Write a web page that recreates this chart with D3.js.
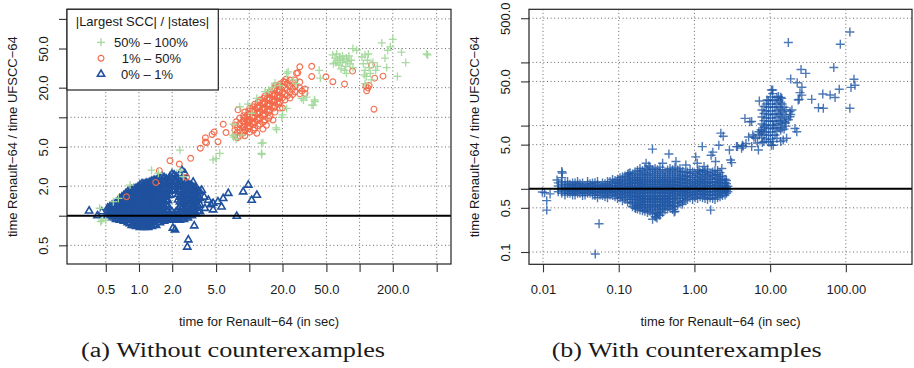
<!DOCTYPE html>
<html>
<head>
<meta charset="utf-8">
<script src="https://cdn.jsdelivr.net/npm/d3@7/dist/d3.min.js"></script>
<style>
  body { margin: 0; background: #fff; }
  svg { display: block; }
  text { font-family: "Liberation Sans", Arial, sans-serif; fill: #1a1a1a; }
</style>
</head>
<body>
<svg id="chart" width="914" height="368"></svg>
<script>
// ---- panel (a): ticks ----
const xTicksA = [0.5, 1, 2, 5, 10, 20, 50, 100, 200, 500];
const xLabelsA = ['0.5', '1.0', '2.0', '5.0', '', '20.0', '50.0', '', '200.0', ''];
const yTicksA = [0.5, 1, 2, 5, 10, 20, 50, 100];
const yLabelsA = ['0.5', '', '2.0', '5.0', '', '20.0', '50.0', ''];

// ---- panel (b): ticks ----
const xTicksB = [0.01, 0.1, 1, 10, 100];
const xLabelsB = ['0.01', '0.10', '1.00', '10.00', '100.00'];
const yTicksB = [0.1, 0.5, 1, 5, 10, 50, 100, 500];
const yLabelsB = ['0.1', '0.5', '', '5.0', '', '50.0', '', '500.0'];

const legendLabels = ['50% \u2013 100%', '1% \u2013 50%', '0% \u2013 1%'];

// ---- panel (a): 0% - 1% (triangles), dense part read column by column [x, [y...]]
const blueColsA = [
  [0.52, [1.0, 1.1, 1.2]],
  [0.545, [1.02, 1.12, 1.24]],
  [0.57, [0.95, 1.05, 1.15, 1.28]],
  [0.595, [0.98, 1.08, 1.18, 1.3]],
  [0.62, [0.92, 1.0, 1.1, 1.22, 1.35]],
  [0.645, [0.95, 1.05, 1.15, 1.28, 1.42]],
  [0.67, [0.9, 1.0, 1.1, 1.2, 1.35, 1.5]],
  [0.70, [0.93, 1.03, 1.14, 1.27, 1.41, 1.55]],
  [0.73, [0.88, 0.98, 1.08, 1.2, 1.33, 1.48, 1.62]],
  [0.76, [0.9, 1.0, 1.12, 1.25, 1.38, 1.53, 1.68]],
  [0.79, [0.85, 0.95, 1.05, 1.17, 1.3, 1.45, 1.6, 1.75]],
  [0.825, [0.83, 0.93, 1.03, 1.14, 1.27, 1.42, 1.58, 1.78]],
  [0.86, [0.8, 0.9, 1.0, 1.12, 1.25, 1.4, 1.55, 1.72, 1.85]],
  [0.90, [0.8, 0.9, 1.0, 1.11, 1.24, 1.38, 1.53, 1.7, 1.88]],
  [0.94, [0.78, 0.88, 0.98, 1.1, 1.22, 1.36, 1.52, 1.7, 1.9]],
  [0.98, [0.8, 0.9, 1.0, 1.12, 1.25, 1.4, 1.56, 1.75, 1.96]],
  [1.02, [0.76, 0.86, 0.96, 1.08, 1.2, 1.35, 1.5, 1.68, 1.88, 2.05]],
  [1.065, [0.8, 0.9, 1.0, 1.12, 1.25, 1.4, 1.57, 1.75, 1.96, 2.12]],
  [1.11, [0.76, 0.85, 0.95, 1.06, 1.18, 1.32, 1.48, 1.65, 1.85, 2.1]],
  [1.16, [0.8, 0.9, 1.0, 1.12, 1.25, 1.4, 1.58, 1.78, 2.0, 2.15]],
  [1.21, [0.76, 0.86, 0.96, 1.08, 1.2, 1.35, 1.5, 1.7, 1.9, 2.15]],
  [1.26, [0.8, 0.92, 1.03, 1.15, 1.28, 1.44, 1.6, 1.8, 2.05, 2.2]],
  [1.31, [0.78, 0.88, 0.98, 1.1, 1.22, 1.38, 1.55, 1.75, 1.95, 2.25]],
  [1.37, [0.82, 0.93, 1.04, 1.16, 1.3, 1.46, 1.64, 1.85, 2.1, 2.3]],
  [1.43, [0.8, 0.9, 1.0, 1.12, 1.25, 1.4, 1.58, 1.78, 2.0, 2.3]],
  [1.49, [0.86, 0.96, 1.07, 1.2, 1.34, 1.5, 1.68, 1.9, 2.15, 2.38]],
  [1.55, [0.85, 0.95, 1.05, 1.18, 1.32, 1.48, 1.65, 1.85, 2.1, 2.4]],
  [1.62, [0.9, 1.0, 1.12, 1.26, 1.42, 1.6, 1.8, 2.05, 2.3, 2.5]],
  [1.69, [0.88, 0.98, 1.1, 1.22, 1.38, 1.55, 1.75, 1.95, 2.2, 2.45]],
  [1.76, [0.92, 1.04, 1.16, 1.3, 1.46, 1.65, 1.88, 2.12, 2.38]],
  [1.83, [0.9, 1.0, 1.12, 1.26, 1.42, 1.6, 1.8, 2.05, 2.3]],
  [1.91, [0.93, 1.04, 1.62, 1.78, 1.98, 2.25, 2.5]],
  [1.99, [0.9, 1.0, 1.1, 1.85, 2.1, 2.4, 2.65]],
  [2.08, [0.93, 1.04, 1.8, 2.05, 2.3, 2.6]],
  [2.17, [0.9, 1.0, 1.1, 1.95, 2.2, 2.5]],
  [2.26, [0.93, 1.04, 1.16, 1.45, 1.65, 1.85, 2.1, 2.4]],
  [2.35, [0.9, 1.0, 1.1, 1.22, 1.38, 1.55, 1.75, 2.0, 2.25]],
  [2.45, [0.95, 1.06, 1.2, 1.36, 1.52, 1.72, 1.95, 2.2]],
  [2.56, [0.92, 1.02, 1.15, 1.3, 1.45, 1.62, 1.82, 2.05, 2.3]],
  [2.67, [0.98, 1.1, 1.24, 1.4, 1.56, 1.75, 1.98, 2.2]],
  [2.78, [0.95, 1.05, 1.18, 1.32, 1.48, 1.65, 1.85, 2.1]],
  [2.9, [1.02, 1.15, 1.3, 1.46, 1.62, 1.82, 2.05]],
  [3.02, [1.0, 1.12, 1.25, 1.4, 1.58, 1.78, 2.0]],
  [3.15, [1.08, 1.22, 1.38, 1.55, 1.75, 1.95]],
  [3.28, [1.05, 1.2, 1.35, 1.52, 1.7, 1.9]],
  [3.42, [1.12, 1.28, 1.45, 1.62, 1.82]],
  [3.57, [1.1, 1.3, 1.5, 1.75]]
];
const blueLooseA = [
  [0.353, 1.12], [0.42, 1.0], [0.46, 1.1], [2.03, 0.75], [2.12, 0.72], [3.17, 0.79],
  [2.8, 0.57], [2.74, 0.48], [3.03, 1.12], [3.96, 1.19], [4.7, 1.34], [5.2, 1.39],
  [5.8, 1.5], [6.45, 1.69], [4.7, 1.15], [5.6, 1.23], [7.7, 0.99], [8.8, 1.75],
  [9.8, 2.05], [10.5, 1.44], [11.7, 1.62], [3.7, 1.82], [3.1, 2.2], [2.6, 2.7],
  [2.45, 2.9], [4.25, 1.44], [4.5, 1.3], [3.9, 1.55]
];

// ---- panel (a): 1% - 50% (circles)
const redColsA = [
  [7.4, [8.35, 7.43, 6.61]],
  [7.8, [7.9, 7.0, 6.2]],
  [8.2, [9.84, 8.55, 7.43, 6.46]],
  [8.7, [9.1, 7.9, 6.9]],
  [8.9, [10.4, 9.1, 8.0, 7.0]],
  [9.1, [11.3, 9.84, 8.55, 7.43, 6.5]],
  [9.6, [10.5, 9.1, 7.9]],
  [9.9, [11.6, 10.1, 8.8, 7.7]],
  [10.1, [12.4, 10.8, 9.39, 8.16, 7.09]],
  [10.6, [11.6, 10.1, 8.7]],
  [10.9, [12.8, 11.2, 9.8, 8.5, 7.4]],
  [11.2, [13.6, 11.9, 10.3, 8.96, 7.78]],
  [11.8, [12.8, 11.1, 9.6]],
  [12.0, [14.2, 12.4, 10.8, 9.4, 8.2]],
  [12.5, [15, 13, 11.3, 9.84, 8.55]],
  [13.2, [14, 12.2, 10.6]],
  [13.5, [15.6, 13.6, 11.9, 10.3, 9.0]],
  [13.9, [16.5, 14.3, 12.4, 10.8, 9.39]],
  [14.6, [15.7, 13.6, 11.9]],
  [15, [17.2, 15, 13, 11.3, 9.8]],
  [15.4, [18.1, 15.7, 13.6, 11.9, 10.3]],
  [16.2, [17.2, 15, 13]],
  [16.7, [18.9, 16.5, 14.3, 12.4]],
  [17.1, [19.9, 17.3, 15, 13, 11.3]],
  [18, [19, 16.5, 14.3]],
  [18.5, [20.8, 18.1, 15.7, 13.6]],
  [19, [21.8, 18.9, 16.5, 14.3, 12.4]],
  [20, [20.5, 18, 15.8]],
  [21, [22.8, 19.9, 17.3, 15]],
  [22, [22, 19, 16.5]],
  [23.4, [23.9, 20.8, 18.1, 15.7]],
  [24.7, [22.5, 19.5, 17]],
  [26, [23.9, 20.8, 18.1]],
  [28.7, [22.8, 19.9, 17.3]]
];
const redLooseA = [
  [28.7, 32.6], [36.8, 33], [36.8, 26], [27.5, 28.3], [32, 19.4], [32, 17.5],
  [49.5, 25.8], [57.2, 23], [73, 21.8], [86.4, 29.5], [128, 34], [137, 25],
  [163, 26.2], [114, 20.8], [119, 19.9], [116, 18.6], [122, 21], [135, 12.1],
  [7.9, 11.9], [7.6, 9], [9.5, 9.4], [5.8, 8.5], [6.15, 7], [5.2, 5.65], [4.8, 7.1],
  [4, 6.2], [4.1, 5.5], [3.6, 4.85], [4.6, 6.7], [4, 5.6], [14.3, 8.3], [13.3, 7.6],
  [16.4, 9.4], [11.7, 6.9], [9.2, 7.4], [20, 12.4], [30, 18.5], [26.8, 28],
  [21.5, 24.4], [20.4, 23], [17.3, 21], [1.91, 3.62], [2.32, 3.35], [2.94, 3.83],
  [1.53, 2.87], [1.42, 2.18], [2.7, 2.46], [0.77, 1.56]
];

// ---- panel (a): 50% - 100% (pluses)
const greenPtsA = [
  [57, 43], [60, 40], [63, 38], [66, 41], [70, 36], [72, 39], [75, 33], [78, 37],
  [82, 35], [87, 32], [65, 34], [68, 31], [73, 30], [62, 44], [80, 42], [58, 35],
  [61, 36], [67, 38], [76, 40], [84, 38], [70, 42],
  [105, 41], [108, 35], [112, 30], [115, 26], [118, 38], [122, 32], [125, 28],
  [128, 24], [112, 22], [120, 44], [132, 36], [140, 30], [145, 33], [110, 27],
  [159, 57], [200, 62], [240, 46], [262, 36], [220, 26], [414, 43], [405, 44],
  [170, 40], [176, 32], [87, 50], [112, 43], [190, 52], [180, 48], [94, 48], [76, 28],
  [43, 30], [44, 25], [22.5, 29], [33, 16], [37, 13.3], [39, 15], [13.3, 5.5],
  [13, 4.2], [17.5, 7.8], [20, 10.6], [5.4, 4.3], [4.7, 3.7], [2.35, 4.65],
  [1.3, 2.9], [1.5, 2.7], [2.35, 2.9], [2.52, 2.5], [0.83, 2.05], [0.65, 1.5],
  [0.585, 1.39], [0.44, 1.19], [0.46, 0.9], [0.45, 0.87], [0.5, 0.9],
  [8.2, 12.8], [9.7, 13.6], [11.7, 15.6], [13.9, 18.2], [15, 19], [17.1, 22.3],
  [21.8, 28], [25, 24], [26.5, 22], [29.8, 15.6], [31, 15], [39.4, 14.4], [38, 13.3],
  [17.7, 7.5], [19.7, 10], [8.5, 6.6], [7.2, 6.3], [7.6, 6.0], [12.9, 5.45],
  [12.9, 4.3], [5.0, 3.8], [7.2, 8.5], [21.8, 12.3], [7.1, 6.6], [16, 20], [19, 21],
  [10.5, 11]
];

// ---- panel (b): all runs (pluses), dense band read column by column
const bandColsB = [
  [0.0159, [0.9, 1.0, 1.11, 1.24]],
  [0.0177, [0.85, 0.95, 1.05, 1.17, 1.3]],
  [0.0195, [0.8, 0.9, 1.0, 1.11, 1.24]],
  [0.0211, [0.85, 0.95, 1.05, 1.17, 1.3]],
  [0.0227, [0.85, 0.95, 1.05, 1.18]],
  [0.0246, [0.8, 0.9, 1.0, 1.11, 1.24]],
  [0.0265, [0.8, 0.9, 1.0, 1.11, 1.24]],
  [0.0286, [0.85, 0.95, 1.05, 1.17, 1.3]],
  [0.0308, [0.85, 0.95, 1.05, 1.2]],
  [0.0333, [0.78, 0.88, 0.98, 1.1, 1.24]],
  [0.0359, [0.8, 0.9, 1.0, 1.12]],
  [0.0388, [0.85, 0.95, 1.05, 1.17, 1.3]],
  [0.0418, [0.85, 0.95, 1.05, 1.2]],
  [0.0451, [0.8, 0.9, 1.0, 1.11, 1.24]],
  [0.0486, [0.78, 0.88, 0.98, 1.1, 1.25]],
  [0.0525, [0.72, 0.84, 0.94, 1.05, 1.17, 1.3]],
  [0.0566, [0.8, 0.9, 1.0, 1.12]],
  [0.0611, [0.78, 0.88, 0.98, 1.1, 1.24]],
  [0.0659, [0.75, 0.85, 0.95, 1.06, 1.2]],
  [0.0711, [0.72, 0.83, 0.93, 1.04, 1.16, 1.3]],
  [0.0767, [0.8, 0.9, 1.0, 1.12, 1.3]],
  [0.0829, [0.78, 0.88, 0.98, 1.1, 1.24, 1.4]],
  [0.0894, [0.75, 0.85, 0.95, 1.06, 1.2, 1.35]],
  [0.0965, [0.7, 0.8, 0.9, 1.0, 1.12, 1.26, 1.42]],
  [0.104, [0.72, 0.82, 0.92, 1.03, 1.15, 1.3, 1.5]],
  [0.112, [0.65, 0.75, 0.85, 0.95, 1.06, 1.2, 1.36, 1.55]],
  [0.121, [0.68, 0.78, 0.88, 0.98, 1.1, 1.24, 1.4, 1.6]],
  [0.131, [0.62, 0.72, 0.82, 0.92, 1.03, 1.16, 1.3, 1.48, 1.7]],
  [0.141, [0.6, 0.68, 0.78, 0.88, 0.98, 1.1, 1.24, 1.4, 1.6, 1.8]],
  [0.152, [0.52, 0.6, 0.68, 0.76, 0.85, 0.95, 1.06, 1.2, 1.34, 1.5, 1.72]],
  [0.164, [0.5, 0.56, 0.64, 0.72, 0.8, 0.9, 1.0, 1.12, 1.26, 1.42, 1.6, 1.85]],
  [0.177, [0.48, 0.54, 0.61, 0.68, 0.76, 0.85, 0.95, 1.06, 1.2, 1.34, 1.5, 1.72, 1.95]],
  [0.191, [0.46, 0.52, 0.58, 0.65, 0.72, 0.8, 0.9, 1.0, 1.12, 1.26, 1.42, 1.6, 1.85, 2.1]],
  [0.206, [0.45, 0.5, 0.56, 0.62, 0.69, 0.76, 0.85, 0.95, 1.06, 1.18, 1.33, 1.5, 1.7, 1.95]],
  [0.222, [0.44, 0.5, 0.56, 0.63, 0.7, 0.78, 0.88, 0.98, 1.1, 1.24, 1.4, 1.6, 1.8, 2.1]],
  [0.24, [0.42, 0.47, 0.53, 0.6, 0.67, 0.74, 0.83, 0.93, 1.04, 1.17, 1.32, 1.5, 1.7, 2.0]],
  [0.259, [0.44, 0.5, 0.56, 0.63, 0.7, 0.78, 0.88, 0.98, 1.1, 1.24, 1.4, 1.6, 1.85, 2.2]],
  [0.28, [0.4, 0.46, 0.53, 0.6, 0.67, 0.74, 0.83, 0.93, 1.04, 1.17, 1.32, 1.5, 1.72, 2.0]],
  [0.302, [0.36, 0.42, 0.5, 0.56, 0.63, 0.7, 0.78, 0.88, 0.98, 1.1, 1.24, 1.4, 1.6, 1.85, 2.1]],
  [0.326, [0.41, 0.47, 0.53, 0.6, 0.67, 0.74, 0.83, 0.93, 1.04, 1.17, 1.32, 1.5, 1.72, 2.0]],
  [0.351, [0.38, 0.44, 0.5, 0.56, 0.63, 0.7, 0.78, 0.88, 0.98, 1.1, 1.24, 1.4, 1.6, 1.85, 2.2]],
  [0.38, [0.42, 0.48, 0.54, 0.61, 0.68, 0.76, 0.85, 0.95, 1.06, 1.18, 1.33, 1.5, 1.72, 2.0]],
  [0.409, [0.46, 0.52, 0.58, 0.65, 0.72, 0.8, 0.9, 1.0, 1.12, 1.26, 1.42, 1.6, 1.85]],
  [0.442, [0.48, 0.55, 0.62, 0.69, 0.76, 0.85, 0.95, 1.06, 1.18, 1.33, 1.5, 1.72, 1.98]],
  [0.476, [0.5, 0.56, 0.63, 0.7, 0.78, 0.88, 0.98, 1.1, 1.24, 1.4, 1.6, 1.85, 2.1]],
  [0.515, [0.47, 0.53, 0.6, 0.67, 0.74, 0.83, 0.93, 1.04, 1.17, 1.32, 1.5, 1.72, 2.0]],
  [0.554, [0.44, 0.52, 0.6, 0.7, 0.8, 0.9, 1.0, 1.12, 1.26, 1.42, 1.6, 1.85, 2.2]],
  [0.6, [0.55, 0.64, 0.74, 0.85, 0.95, 1.06, 1.18, 1.33, 1.5, 1.72, 1.98]],
  [0.645, [0.6, 0.7, 0.8, 0.9, 1.0, 1.12, 1.26, 1.42, 1.6, 1.85, 2.1]],
  [0.7, [0.62, 0.7, 0.8, 0.9, 1.0, 1.12, 1.26, 1.44, 1.65, 1.9]],
  [0.751, [0.65, 0.75, 0.85, 0.95, 1.06, 1.2, 1.35, 1.55, 1.8]],
  [0.81, [0.68, 0.78, 0.88, 0.98, 1.1, 1.24, 1.4, 1.6, 1.85]],
  [0.875, [0.72, 0.82, 0.92, 1.03, 1.15, 1.3, 1.5, 1.75, 2.0]],
  [0.945, [0.68, 0.77, 0.87, 0.97, 1.08, 1.22, 1.38, 1.6, 1.85]],
  [1.02, [0.72, 0.82, 0.92, 1.03, 1.15, 1.3, 1.5, 1.75]],
  [1.1, [0.7, 0.8, 0.9, 1.0, 1.12, 1.26, 1.42, 1.65, 1.9]],
  [1.19, [0.75, 0.85, 0.95, 1.06, 1.2, 1.35, 1.55, 1.8]],
  [1.28, [0.72, 0.82, 0.92, 1.03, 1.15, 1.3, 1.48, 1.7, 1.95]],
  [1.38, [0.7, 0.8, 0.9, 1.0, 1.12, 1.26, 1.42, 1.65, 1.9]],
  [1.49, [0.68, 0.77, 0.87, 0.97, 1.08, 1.22, 1.38, 1.58, 1.82, 2.05]],
  [1.61, [0.72, 0.82, 0.92, 1.03, 1.15, 1.3, 1.5, 1.75]],
  [1.74, [0.7, 0.8, 0.9, 1.0, 1.12, 1.26, 1.42, 1.62, 1.85]],
  [1.87, [0.68, 0.8, 0.9, 1.0, 1.12, 1.26, 1.42, 1.65, 1.95]],
  [2.02, [0.72, 0.82, 0.92, 1.03, 1.15, 1.3, 1.48, 1.7, 1.95]],
  [2.18, [0.75, 0.85, 0.95, 1.06, 1.2, 1.35, 1.55, 1.8]],
  [2.35, [0.78, 0.88, 0.98, 1.1, 1.24, 1.4, 1.6]],
  [2.54, [0.8, 0.9, 1.0, 1.12, 1.26, 1.42]],
  [2.65, [0.85, 0.95, 1.06, 1.2, 1.35]],
  [2.76, [0.9, 1.0, 1.1]]
];
const clusterColsB = [
  [7.8, [17.7, 13.7, 10.6, 8.2, 6.4]],
  [8.3, [20, 15.5, 12, 9.3, 7.2, 5.6]],
  [8.9, [22, 17, 13.2, 10.2, 7.9, 6.1]],
  [9.5, [25, 19.5, 15, 11.7, 9, 7]],
  [10.1, [28.4, 22, 17, 13.2, 10.2, 7.9, 6.1]],
  [10.8, [32, 25, 19.5, 15, 11.7, 9, 7, 5.6]],
  [11.6, [25.4, 19.7, 15.3, 11.8, 9.2, 7.1]],
  [12.3, [28, 22, 17.3, 13.4, 10.4, 8.1, 6.3]],
  [13.1, [25.4, 19.7, 15.3, 11.8, 9.2]],
  [13.8, [23.5, 18.2, 14.1, 10.9, 8.5]],
  [14.4, [22, 16.4, 12.2, 9.2]],
  [15.3, [19.5, 15, 11.5, 8.8]],
  [16.2, [17.7, 13.2, 9.8]]
];
const loosePtsB = [
  [0.0098, 0.89], [0.0105, 0.87], [0.0112, 0.65], [0.0112, 0.46], [0.0124, 0.83],
  [0.0177, 1.87], [0.0177, 1.5], [0.018, 1.78], [0.0153, 1.38], [0.049, 0.093],
  [0.055, 0.28], [0.279, 4.25], [0.46, 3.55], [1.64, 0.46], [0.32, 0.345], [0.28, 0.33],
  [0.34, 0.385], [0.31, 0.36], [0.54, 0.43], [0.167, 0.49], [0.69, 0.57],
  [1.27, 4.65], [2.23, 7.6], [2.4, 6.8], [1.66, 3.4], [1.75, 3.8], [2.1, 4.9],
  [2.9, 4.1], [3.0, 2.85], [3.1, 2.6], [3.7, 4.65], [4.3, 4.9], [4.8, 5.2],
  [6.4, 6.3], [7.2, 7.1], [7.6, 7.6], [1.04, 3.2], [1.09, 2.54], [1.15, 2.0],
  [1.34, 2.25], [1.9, 2.7], [2.3, 2.1], [0.77, 2.38], [0.57, 2.7], [0.38, 2.54],
  [0.23, 2.54], [0.25, 2.3], [0.136, 1.75],
  [3.6, 4.65], [4.2, 4.4], [4.4, 4.7], [5.2, 6.6], [5.9, 7.1], [6.1, 6.6], [7.1, 8.0],
  [7.6, 8.6], [8.4, 9.8], [7.0, 4.1], [5.7, 4.65], [4.65, 13], [5.4, 11.5],
  [5.7, 11.6], [7.2, 24.5], [9.1, 25.4], [10.4, 36.6], [10.8, 36.6], [11, 4.9],
  [12.9, 28.8], [14.2, 27], [13.8, 28], [14.9, 5.9], [16.5, 6.3], [13.8, 5.6],
  [10.4, 4.9], [18.3, 16.7], [18.7, 15], [17.4, 12.4], [16, 11], [11, 10],
  [19.4, 17.7], [18.3, 13.8], [21.3, 9.0], [22.5, 8.0], [6.8, 5.3], [7.9, 5.4], [9.5, 5.5],
  [17.4, 206], [113, 303], [84.5, 194], [69.3, 83], [25.6, 77], [29.6, 67],
  [18.7, 54.8], [22.8, 47.6], [26.3, 40.5], [24.8, 33.2], [24.2, 26], [23.5, 25.4],
  [26.2, 30.4], [35.4, 26], [49.6, 31.6], [62, 30.5], [72.1, 27.8], [81.8, 37.5],
  [43.5, 19.2], [50.4, 18.8], [113, 18.8], [117, 40.2], [132, 43.5], [128, 54]
];

const flatten = cols => cols.flatMap(([x, ys]) => ys.map(y => [x, y]));

const blueA = flatten(blueColsA).concat(blueLooseA);
const redA = flatten(redColsA).concat(redLooseA);
const greenA = greenPtsA;
const allB = flatten(bandColsB).concat(flatten(clusterColsB), loosePtsB);

const GREEN = '#a3d99c', RED = '#f2694a', BLUE = '#1f519e', BLUE_B = '#2157a5';

const svg = d3.select('#chart');

const plusPath = 'M-4,0H4M0,-4V4';
const plusPathB = 'M-4.5,0H4.5M0,-4.5V4.5';
const triPath = 'M0,-4.1L3.6,2.1L-3.6,2.1Z';
const circlePath = d3.symbol(d3.symbolCircle, Math.PI * 2.9 * 2.9)();

function drawPanel(p) {
  const x = d3.scaleLog().domain(p.xDomain).range([p.left, p.right]);
  const y = d3.scaleLog().domain(p.yDomain).range([p.bottom, p.top]);
  const g = svg.append('g');

  // dotted grid
  g.append('g').selectAll('line').data(p.xTicks).join('line')
    .attr('x1', d => x(d)).attr('x2', d => x(d))
    .attr('y1', p.top).attr('y2', p.bottom)
    .attr('stroke', '#666').attr('stroke-width', 1).attr('stroke-dasharray', '1,2.6');
  g.append('g').selectAll('line').data(p.yTicks).join('line')
    .attr('y1', d => y(d)).attr('y2', d => y(d))
    .attr('x1', p.left).attr('x2', p.right)
    .attr('stroke', '#666').attr('stroke-width', 1).attr('stroke-dasharray', '1,2.6');

  // axes
  const xAxis = g.append('g').attr('transform', `translate(0,${p.bottom})`)
    .call(d3.axisBottom(x).tickValues(p.xTicks).tickFormat((d, i) => p.xLabels[i])
      .tickSize(8).tickPadding(12.5));
  const yAxis = g.append('g').attr('transform', `translate(${p.left},0)`)
    .call(d3.axisLeft(y).tickValues(p.yTicks).tickFormat((d, i) => p.yLabels[i]).tickSize(8));
  [xAxis, yAxis].forEach(a => {
    a.select('.domain').remove();
    a.selectAll('.tick line').attr('stroke', '#333').attr('stroke-width', 1.1);
    a.selectAll('.tick text').attr('font-size', 13).attr('font-family', '"Liberation Sans", Arial, sans-serif')
      .attr('fill', '#1a1a1a');
  });
  yAxis.selectAll('.tick text')
    .attr('x', null).attr('dy', null).attr('text-anchor', 'middle')
    .attr('transform', 'translate(-19,0) rotate(-90)');

  // points
  p.series.forEach(s => {
    g.append('g').selectAll('path').data(s.data).join('path')
      .attr('transform', d => `translate(${x(d[0])},${y(d[1])})`)
      .attr('d', s.path)
      .attr('fill', 'none').attr('stroke', s.color)
      .attr('stroke-width', s.width).attr('stroke-opacity', s.opacity);
  });

  // reference line at ratio 1
  g.append('line').attr('x1', p.left).attr('x2', p.right)
    .attr('y1', y(1)).attr('y2', y(1)).attr('stroke', '#000').attr('stroke-width', 2);

  // box
  g.append('rect').attr('x', p.left).attr('y', p.top)
    .attr('width', p.right - p.left).attr('height', p.bottom - p.top)
    .attr('fill', 'none').attr('stroke', '#222').attr('stroke-width', 1.2);

  // axis titles
  g.append('text').attr('x', (p.left + p.right) / 2).attr('y', 325.5)
    .attr('text-anchor', 'middle').attr('font-size', 13)
    .text('time for Renault\u221264 (in sec)');
  g.append('text').attr('text-anchor', 'middle').attr('font-size', 13)
    .attr('transform', `translate(${p.left - 50.5},${(p.top + p.bottom) / 2}) rotate(-90)`)
    .text('time Renault\u221264 / time UFSCC\u221264');

  // sub caption
  g.append('text').attr('x', p.capX).attr('y', 357)
    .attr('text-anchor', 'middle').attr('font-size', 20)
    .attr('textLength', p.capW).attr('lengthAdjust', 'spacingAndGlyphs')
    .style('font-family', '"Liberation Serif", "Times New Roman", serif').attr('fill', '#111')
    .text(p.caption);

  return g;
}

const gA = drawPanel({
  left: 67, right: 451, top: 9.3, bottom: 264,
  xDomain: [0.2225, 674], yDomain: [0.323, 125.2],
  xTicks: xTicksA, xLabels: xLabelsA, yTicks: yTicksA, yLabels: yLabelsA,
  series: [
    { data: blueA, color: BLUE, path: triPath, width: 1.6, opacity: 1 },
    { data: redA, color: RED, path: circlePath, width: 1.2, opacity: 0.95 },
    { data: greenA, color: GREEN, path: plusPath, width: 1.3, opacity: 0.95 }
  ],
  caption: '(a) Without counterexamples', capX: 233, capW: 304
});

drawPanel({
  left: 529, right: 912, top: 9.3, bottom: 264.3,
  xDomain: [0.00653, 748], yDomain: [0.0639, 692],
  xTicks: xTicksB, xLabels: xLabelsB, yTicks: yTicksB, yLabels: yLabelsB,
  series: [{ data: allB, color: BLUE_B, path: plusPathB, width: 1.4, opacity: 0.8 }],
  caption: '(b) With counterexamples', capX: 686.7, capW: 270
});

// legend of panel (a)
const leg = gA.append('g');
leg.append('rect').attr('x', 67).attr('y', 9.3).attr('width', 151.3).attr('height', 80.7)
  .attr('fill', '#fff').attr('stroke', '#222').attr('stroke-width', 1.2);
leg.append('text').attr('x', 142.5).attr('y', 26).attr('text-anchor', 'middle')
  .attr('font-size', 13).text('|Largest SCC| / |states|');
const legItems = [
  { color: GREEN, d: plusPath, w: 1.3, tx: 114 },
  { color: RED, d: circlePath, w: 1.2, tx: 121.7 },
  { color: BLUE, d: triPath, w: 1.6, tx: 121 }
];
legItems.forEach((it, i) => {
  const cy = 42.3 + i * 15.9;
  leg.append('path').attr('d', it.d).attr('transform', `translate(101,${cy})`)
    .attr('fill', 'none').attr('stroke', it.color).attr('stroke-width', it.w);
  leg.append('text').attr('x', it.tx).attr('y', cy + 4.7).attr('font-size', 13)
    .text(legendLabels[i]);
});
</script>
</body>
</html>
